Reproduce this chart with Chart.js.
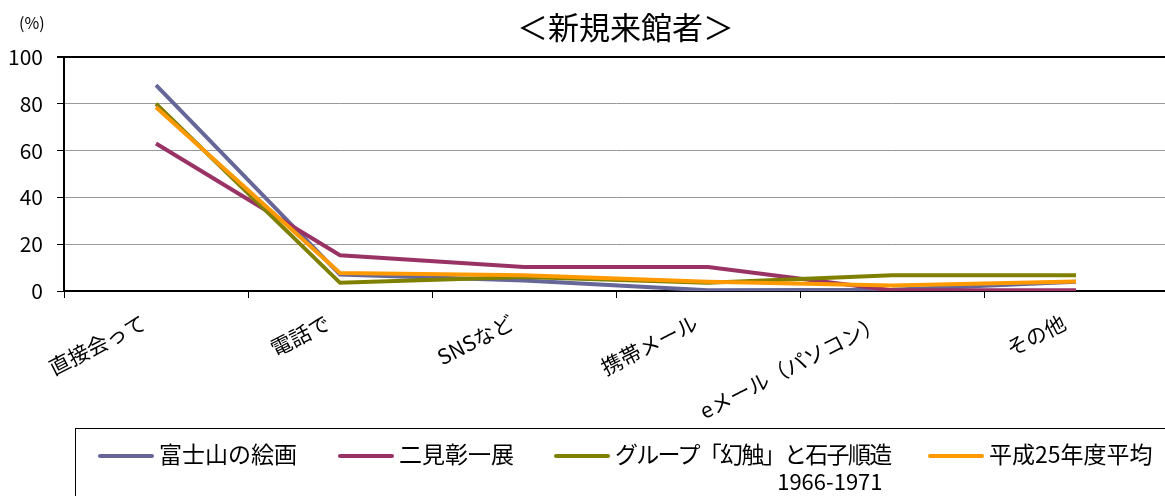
<!DOCTYPE html>
<html>
<head>
<meta charset="utf-8">
<script src="https://cdn.jsdelivr.net/npm/chart.js@4.4.1/dist/chart.umd.min.js"></script>
<style>
  html, body { margin: 0; padding: 0; background: #fff; overflow: hidden; }
  #wrap { position: relative; width: 1172px; height: 496px; font-family: "Noto Sans CJK JP", "DejaVu Sans", sans-serif; }
  #wrap canvas { position: absolute; left: 0; top: 0; }
  .title { position: absolute; left: 0; width: 1251px; top: 4px; text-align: center; font-size: 31px; line-height: 44px; color: #000; }
  .unit { position: absolute; left: 19px; top: 10px; font-size: 16px; line-height: 24px; color: #000; }
  .legend { position: absolute; left: 75px; top: 428px; width: 1120px; height: 90px; border: 1px solid #000; box-sizing: border-box; }
  .item { position: absolute; top: 9px; font-size: 23px; line-height: 30px; color: #000; white-space: nowrap; }
  .item i { display: inline-block; width: 56px; height: 4px; border-radius: 2px; vertical-align: middle; margin-right: 5px; position: relative; top: -1px; }
  .item.tight { letter-spacing: -1.7px; }
  .sub { position: absolute; right: 8px; top: 30px; font-size: 22px; line-height: 24px; letter-spacing: 0; }
</style>
</head>
<body>
<div id="wrap">
  <canvas id="lineChart" width="1172" height="496"></canvas>
  <div class="unit">(%)</div>
  <div class="title">＜新規来館者＞</div>
  <div class="legend" id="legend"></div>
</div>
<script>
var categories = ['直接会って', '電話で', 'SNSなど', '携帯メール', 'eメール（パソコン）', 'その他'];
var fujisan = [88, 7, 4.5, 0.3, 0.5, 4];
var futami = [63, 15.3, 10.3, 10.3, 0.3, 0.3];
var genshoku = [80, 3.5, 6, 3.5, 6.7, 6.7];
var heiseiAvg = [78.5, 7.7, 6.7, 4, 2.4, 4.1];
var seriesNames = ['富士山の絵画', '二見彰一展', 'グループ「幻触」と石子順造', '平成25年度平均'];
var yTicks = [0, 20, 40, 60, 80, 100];

var colors = ['#666699', '#993366', '#808000', '#FF9900'];
var values = [fujisan, futami, genshoku, heiseiAvg];
var drawOrder = [3, 2, 1, 0];

var datasets = values.map(function (v, i) {
    return {
        label: seriesNames[i],
        data: v,
        borderColor: colors[i],
        backgroundColor: colors[i],
        borderWidth: 4,
        pointRadius: 0,
        tension: 0,
        order: drawOrder[i]
    };
});

var ctx = document.getElementById('lineChart').getContext('2d');
var font = "'Noto Sans CJK JP', 'DejaVu Sans', sans-serif";

var myChart = new Chart(ctx, {
    type: 'line',
    data: { labels: categories, datasets: datasets },
    options: {
        responsive: false,
        animation: false,
        layout: { padding: { top: 57, right: 4, bottom: 0, left: 0 } },
        plugins: {
            legend: { display: false },
            title: { display: false },
            tooltip: { enabled: false }
        },
        scales: {
            x: {
                offset: true,
                grid: {
                    offset: true,
                    drawOnChartArea: false,
                    tickLength: 7,
                    tickColor: '#000'
                },
                border: { color: '#000', width: 2 },
                ticks: {
                    color: '#000',
                    font: { family: font, size: 21 },
                    minRotation: 27,
                    maxRotation: 27,
                    padding: 12,
                    labelOffset: -12
                },
                afterFit: function (scale) { scale.height = 205; }
            },
            y: {
                min: 0,
                max: 100,
                afterBuildTicks: function (scale) {
                    scale.ticks = yTicks.map(function (t) { return { value: t }; });
                },
                grid: {
                    color: function (c) { return c.tick && c.tick.value === 100 ? '#000' : '#999'; },
                    lineWidth: function (c) { return c.tick && c.tick.value === 100 ? 2 : 1; },
                    tickLength: 7,
                    tickColor: '#000'
                },
                border: { color: '#000', width: 2 },
                ticks: {
                    color: '#000',
                    font: { family: font, size: 21 },
                    padding: 14
                },
                afterFit: function (scale) { scale.width = 64; }
            }
        }
    }
});

// legend drawn as html under the chart
var legendPos = [22, 262, 478, 852];
var legend = document.getElementById('legend');
seriesNames.forEach(function (name, i) {
    var el = document.createElement('div');
    el.className = 'item';
    el.style.left = legendPos[i] + 'px';
    el.innerHTML = '<i style="background:' + colors[i] + '"></i>' + name;
    if (i === 2) {
        el.className += ' tight';
        var sub = document.createElement('span');
        sub.className = 'sub';
        sub.textContent = '1966-1971';
        el.appendChild(sub);
    }
    legend.appendChild(el);
});
</script>
</body>
</html>
